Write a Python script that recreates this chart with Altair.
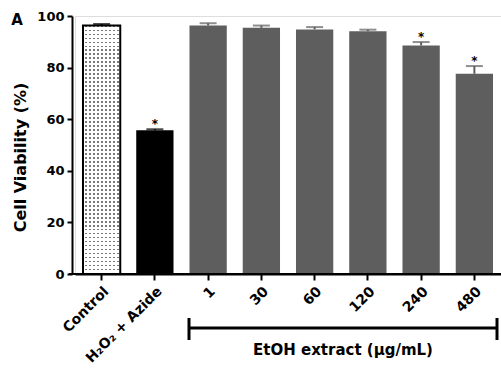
import altair as alt
import pandas as pd

# ---- data ----
groups = ["Control", "H₂O₂ + Azide", "1", "30", "60", "120", "240", "480"]
viability = [96.3, 55.7, 96.3, 95.4, 94.8, 94.1, 88.6, 77.6]
sem = [0.6, 0.4, 0.9, 0.9, 0.9, 0.6, 1.3, 3.0]
kinds = ["control", "azide", "extract", "extract", "extract", "extract", "extract", "extract"]
significance = ["", "*", "", "", "", "", "*", "*"]
y_ticks = [0, 20, 40, 60, 80, 100]

df = pd.DataFrame({
    "group": groups,
    "viability": viability,
    "sem": sem,
    "kind": kinds,
    "sig": significance,
})
df["top"] = df["viability"] + df["sem"]

W, H = 426, 258
FONT = "DejaVu Sans"
GRAY = "#5e5e5e"


def stripes(vertical, period, duty, on, off):
    stops = []
    o = 0.0
    while o < 1.0:
        a = min(o + duty * period, 1.0)
        b = min(o + period, 1.0)
        stops += [{"offset": o, "color": on}, {"offset": a, "color": on},
                  {"offset": a, "color": off}, {"offset": b, "color": off}]
        o += period
    g = {"gradient": "linear", "stops": stops}
    if vertical:
        g.update({"x1": 0, "y1": 0, "x2": 0, "y2": 1})
    else:
        g.update({"x1": 0, "y1": 0, "x2": 1, "y2": 0})
    return g


h_lines = stripes(True, 4 / 249, 0.35, "#7a7a7a", "#ffffff")
v_mask = stripes(False, 4 / 37, 0.5, "#ffffff", "rgba(255,255,255,0)")

base = alt.Chart(df)

x_enc = alt.X(
    "group:N", sort=groups,
    scale=alt.Scale(paddingInner=0.3, paddingOuter=0.15),
    axis=alt.Axis(
        title=None, labelAngle=-45, labelFont=FONT, labelFontSize=14,
        labelFontWeight="bold", labelColor="black", labelPadding=4,
        tickColor="black", tickWidth=2, tickSize=6,
        domainColor="black", domainWidth=2,
    ),
)
y_enc = alt.Y(
    "viability:Q",
    scale=alt.Scale(domain=[0, 100], nice=False),
    axis=alt.Axis(
        values=y_ticks, offset=3, grid=False,
        title="Cell Viability (%)", titleFont=FONT, titleFontSize=16,
        titleFontWeight="bold", titleColor="black", titlePadding=8,
        titleY=141,
        labelFont=FONT, labelFontSize=13, labelFontWeight="bold",
        labelColor="black", labelPadding=3,
        tickColor="black", tickWidth=2, tickSize=5,
        domainColor="black", domainWidth=2,
    ),
)
color_scale = alt.Scale(domain=["control", "azide", "extract"], range=["black", "black", GRAY])

ctrl_bg = base.transform_filter(alt.datum.kind == "control").mark_bar(fill=h_lines).encode(x=x_enc, y=y_enc)
ctrl_fg = base.transform_filter(alt.datum.kind == "control").mark_bar(
    fill=v_mask, stroke="black", strokeWidth=2).encode(x=x_enc, y=y_enc)
bars = base.transform_filter(alt.datum.kind != "control").mark_bar().encode(
    x=x_enc, y=y_enc, color=alt.Color("kind:N", scale=color_scale, legend=None))

err = base.mark_rule(strokeWidth=2).encode(
    x=x_enc, y="viability:Q", y2="top:Q",
    color=alt.Color("kind:N", scale=color_scale, legend=None))
caps = base.mark_tick(size=17, thickness=2).encode(
    x=x_enc, y="top:Q",
    color=alt.Color("kind:N", scale=color_scale, legend=None))
stars = base.transform_filter(alt.datum.sig != "").mark_text(
    font=FONT, fontSize=12, fontWeight="bold", color="black", baseline="alphabetic", dy=-1
).encode(x=x_enc, y="top:Q", text="sig:N")

one = alt.Chart(pd.DataFrame({"k": [0]}))
baseline = one.mark_rule(color="black", strokeWidth=2).encode(
    x=alt.value(-6), x2=alt.value(W), y=alt.value(H))
bracket_h = one.mark_rule(color="black", strokeWidth=3).encode(
    x=alt.value(114), x2=alt.value(422), y=alt.value(312))
bracket_l = one.mark_rule(color="black", strokeWidth=3).encode(
    x=alt.value(114), y=alt.value(302), y2=alt.value(324))
bracket_r = one.mark_rule(color="black", strokeWidth=3).encode(
    x=alt.value(422), y=alt.value(302), y2=alt.value(324))
bracket_t = one.mark_text(
    text="EtOH extract (µg/mL)", font=FONT, fontSize=15, fontWeight="bold",
    color="black", align="center", baseline="middle").encode(
    x=alt.value(268), y=alt.value(334))
panel = one.mark_text(
    text="A", font=FONT, fontSize=15, fontWeight="bold",
    color="black", align="center", baseline="middle").encode(
    x=alt.value(-58), y=alt.value(4))

chart = alt.layer(
    ctrl_bg, ctrl_fg, bars, err, caps, stars, baseline,
    bracket_h, bracket_l, bracket_r, bracket_t, panel,
).properties(
    width=W, height=H,
    autosize=alt.AutoSizeParams(type="none"),
    padding={"left": 75, "top": 16, "right": 0, "bottom": 102},
).configure_view(stroke=None).configure(background="white")

chart.save("out.html", embed_options={"renderer": "svg", "actions": False})
